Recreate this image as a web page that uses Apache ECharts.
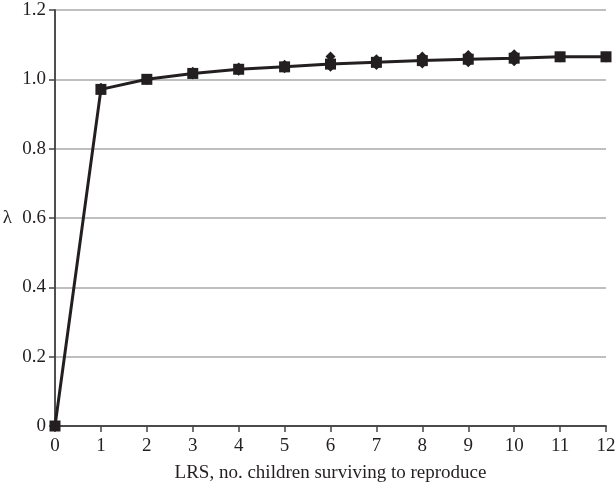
<!DOCTYPE html>
<html>
<head>
<meta charset="utf-8">
<script src="https://cdn.jsdelivr.net/npm/echarts@6/dist/echarts.min.js"></script>
<style>html,body{margin:0;padding:0;background:#fff}#c{width:615px;height:483px}</style>
</head>
<body>
<div id="c"></div>
<script>
var lrs = [0,1,2,3,4,5,6,7,8,9,10,11,12];
var lambdaMain = [0,0.971,1.000,1.017,1.029,1.036,1.044,1.049,1.054,1.058,1.061,1.065,1.065];
var lambdaUpper = [0,0.976,1.002,1.022,1.034,1.042,1.066,1.058,1.066,1.070,1.072,1.066,1.066];
var lambdaLower = [0,0.968,0.998,1.014,1.025,1.032,1.036,1.041,1.046,1.049,1.052,1.063,1.063];
var yTicks = ['0','0.2','0.4','0.6','0.8','1.0','1.2'];

function pairs(v){ return lrs.map(function(x,i){ return [x, v[i]]; }); }
var ink = '#231f20';
var font = 'Liberation Serif';
var chart = echarts.init(document.getElementById('c'));
chart.setOption({
  animation: false,
  grid: {left: 55, right: 9, top: 10, bottom: 57, containLabel: false, outerBoundsMode: 'none'},
  xAxis: [{
    type: 'value', min: 0, max: 12, interval: 1,
    name: 'LRS, no. children surviving to reproduce', nameLocation: 'middle', nameGap: 38,
    nameTextStyle: {fontFamily: font, fontSize: 19, color: ink},
    axisLine: {lineStyle: {color: '#444', width: 1.5}},
    axisTick: {show: true, length: 6, lineStyle: {color: '#444', width: 1.5}},
    axisLabel: {fontFamily: font, fontSize: 19, color: ink, margin: 11},
    splitLine: {show: false}
  }, {
    type: 'value', min: 0, max: 12, position: 'top',
    axisLine: {show: true, lineStyle: {color: '#444', width: 1.5}},
    axisTick: {show: false}, axisLabel: {show: false}, splitLine: {show: false}
  }],
  yAxis: [{
    type: 'value', min: 0, max: 1.2, interval: 0.2,
    name: 'λ', nameLocation: 'middle', nameGap: 43, nameRotate: 0,
    nameTextStyle: {fontFamily: font, fontSize: 19, color: ink},
    axisLine: {show: true, lineStyle: {color: '#444', width: 1.5}},
    axisTick: {show: true, length: 6, lineStyle: {color: '#444', width: 1.5}},
    axisLabel: {fontFamily: font, fontSize: 19, color: ink, margin: 9,
      formatter: function(v){ var i = Math.round(v/0.2); return yTicks[i]; }},
    splitLine: {show: true, lineStyle: {color: '#aaa', width: 1.5}}
  }, {
    type: 'value', min: 0, max: 1.2, position: 'right',
    axisLine: {show: true, lineStyle: {color: '#444', width: 1.5}},
    axisTick: {show: false}, axisLabel: {show: false}, splitLine: {show: false}
  }],
  series: [{
    type: 'line', data: pairs(lambdaUpper), symbol: 'diamond', symbolSize: 10,
    lineStyle: {width: 0, opacity: 0}, itemStyle: {color: ink}, z: 2
  }, {
    type: 'line', data: pairs(lambdaLower), symbol: 'diamond', symbolSize: 10,
    lineStyle: {width: 0, opacity: 0}, itemStyle: {color: ink}, z: 2
  }, {
    type: 'line', data: pairs(lambdaMain), symbol: 'rect', symbolSize: 11,
    lineStyle: {width: 3, color: ink}, itemStyle: {color: ink}, z: 3
  }]
});
</script>
</body>
</html>
